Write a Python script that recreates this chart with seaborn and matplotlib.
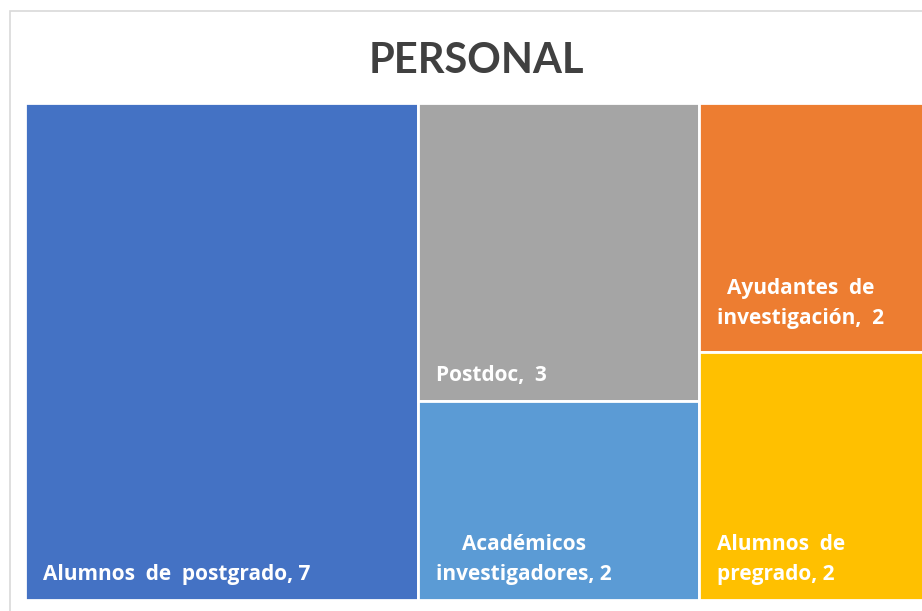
import matplotlib
matplotlib.use("Agg")
import matplotlib.pyplot as plt
from matplotlib.patches import Rectangle
import seaborn as sns

categories = ["Alumnos de postgrado", "Postdoc", "Académicos investigadores",
              "Ayudantes de investigación", "Alumnos de pregrado"]
values = [7, 3, 2, 2, 2]
labels = ["Alumnos  de  postgrado, 7", "Postdoc,  3", "Académicos\ninvestigadores, 2",
          "Ayudantes  de\ninvestigación,  2", "Alumnos  de\npregrado, 2"]
colors = ["#4472C4", "#A5A5A5", "#5B9BD5", "#ED7D31", "#FFC000"]
columns = [[0], [1, 2], [3, 4]]  # treemap column grouping
multi_align = ["left", "left", "center", "center", "left"]
label_pad = [0.03, 0.03, 0.03, 0.045, 0.03]

sns.set_theme(style="white")
plt.rcParams['font.family'] = ['Open Sans', 'DejaVu Sans']

fig = plt.figure(figsize=(9.22, 6.11), dpi=100)
W, H = 922, 611
# outer chart border
fig.add_artist(Rectangle((10 / W, -0.05), 1.0, (H - 11) / H + 0.05, transform=fig.transFigure,
                         fill=False, edgecolor="#D9D9D9", linewidth=1.2))
fig.text(476 / W, 1 - 61 / H, "PERSONAL", ha="center", va="center",
         fontsize=30, fontweight="bold", color="#404040", family=["Lato", "DejaVu Sans"])

ax = fig.add_axes([25 / W, 11 / H, 899 / W, 497 / H])
total = sum(values)
ax.set_xlim(0, total)
ax.set_ylim(0, 1)
ax.axis("off")

x0 = 0.0
for col in columns:
    colsum = sum(values[i] for i in col)
    ytop = 1.0
    for i in col:
        h = values[i] / colsum
        y0 = ytop - h
        ax.add_patch(Rectangle((x0, y0), colsum, h, facecolor=colors[i],
                               edgecolor="white", linewidth=2))
        ax.text(x0 + 0.32, y0 + label_pad[i], labels[i], ha="left", va="bottom", color="white",
                fontsize=15, fontweight="bold", linespacing=1.55,
                multialignment=multi_align[i])
        ytop = y0
    x0 += colsum

fig.savefig("out.png", dpi=100)
